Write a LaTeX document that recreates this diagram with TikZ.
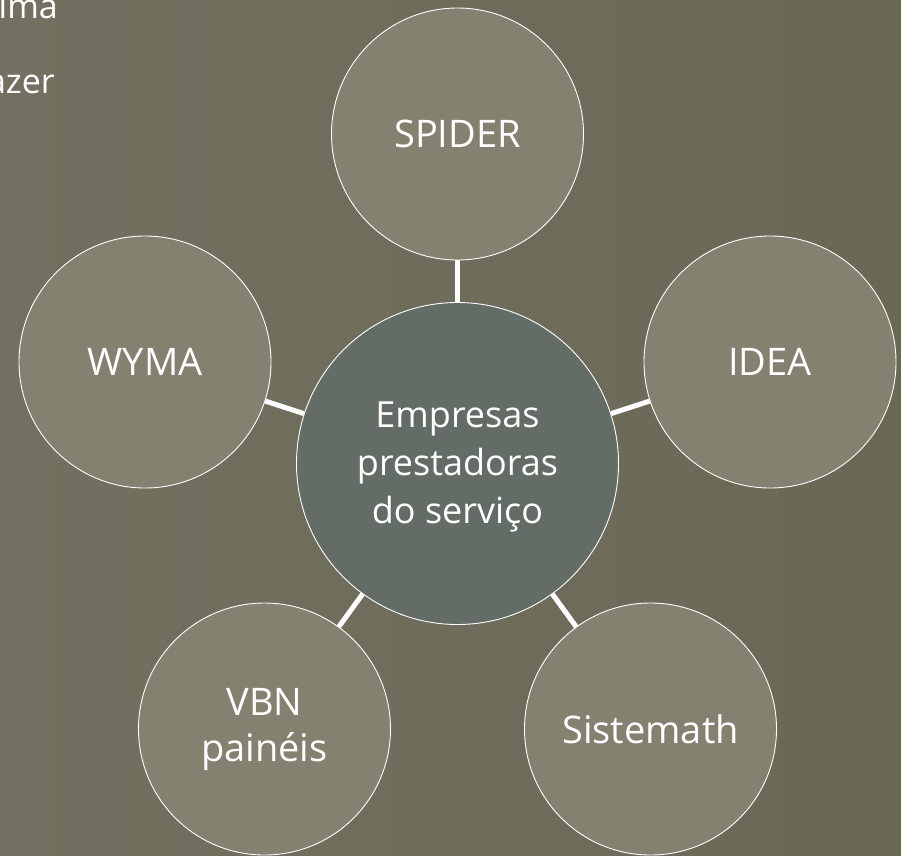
\documentclass[tikz,border=0pt]{standalone}
\usepackage{fontspec}
\setmainfont{Open Sans}
\definecolor{bgcol}{HTML}{6C6A57}
\definecolor{bgleft}{HTML}{727060}
\definecolor{bgright}{HTML}{6A6855}
\definecolor{satfill}{HTML}{848170}
\definecolor{hubfill}{HTML}{646C66}
\begin{document}
\begin{tikzpicture}[x=1pt,y=-1pt,
  sat/.style={circle, draw=white, line width=0.9pt, fill=satfill,
    minimum size=252pt, inner sep=0pt, text=white, align=center,
    font=\fontsize{38}{46}\selectfont},
  hub/.style={circle, draw=white, line width=0.9pt, fill=hubfill,
    minimum size=322pt, inner sep=0pt},
  hubtext/.style={inner sep=0pt, text=white, align=center,
    font=\fontsize{36}{48}\selectfont},
  link/.style={draw=white, line width=5pt},
  cuttext/.style={anchor=base east, inner sep=0pt, text=white,
    font=\fontsize{34}{40}\selectfont}]
\useasboundingbox (0,0) rectangle (901,855);
\clip (0,0) rectangle (901,855);
\shade[left color=bgleft, right color=bgright] (0,0) rectangle (901,855);
\node[cuttext] (t1) at (58,18) {ima};
\node[cuttext] (t2) at (55,93) {azer};
\node[hub] (c) at (457.5,463.5) {};
\node[hubtext] (ct) at (457.5,467) {Empresas\\prestadoras\\do serviço};
\node[sat] (spider) at (457.5,134) {SPIDER};
\node[sat] (idea) at (770,362) {IDEA};
\node[sat] (wyma) at (145,362) {WYMA};
\node[sat] (vbn) at (264.5,729) {VBN\\painéis};
\node[sat] (sis) at (650.5,729) {Sistemath};
\draw[link] (c) -- (spider);
\draw[link] (c) -- (idea);
\draw[link] (c) -- (wyma);
\draw[link] (c) -- (vbn);
\draw[link] (c) -- (sis);
\end{tikzpicture}
\end{document}
